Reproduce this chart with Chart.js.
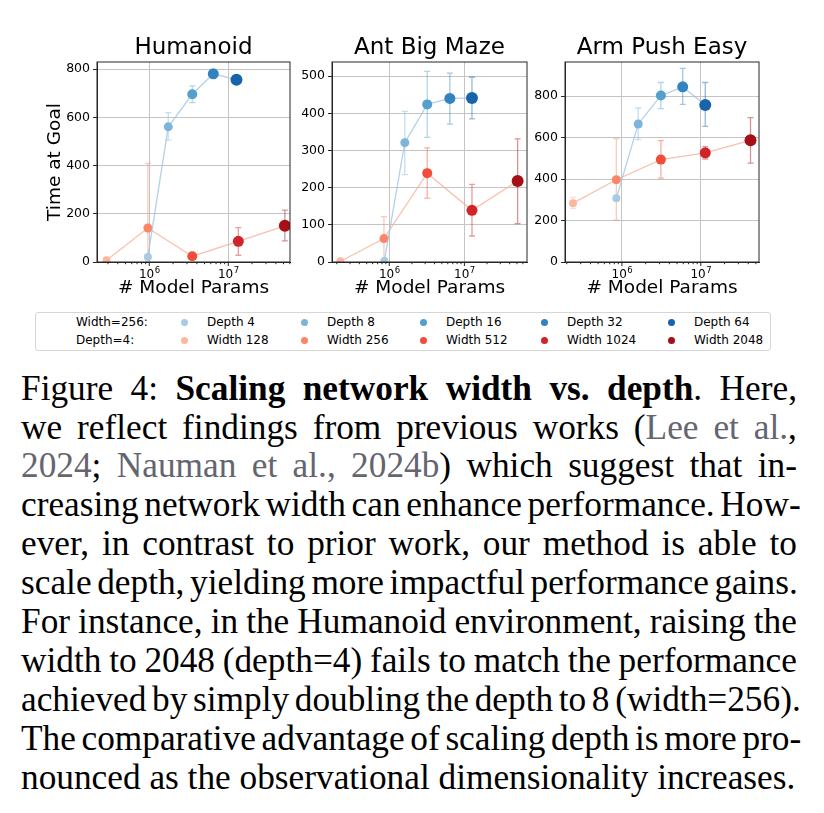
<!DOCTYPE html>
<html>
<head>
<meta charset="utf-8">
<script src="https://cdn.jsdelivr.net/npm/chart.js@4/dist/chart.umd.min.js"></script>
<style>
body { margin: 0; background: #fff; width: 824px; height: 813px; position: relative; overflow: hidden; font-family: "DejaVu Sans", sans-serif; }
.box { position: absolute; top: 20px; height: 290px; }
#legend { position: absolute; left: 35px; top: 312px; width: 734px; height: 37px; border: 1px solid #d6d6d6; border-radius: 3px; font-size: 12px; color: #000; }
#legend span { position: absolute; white-space: nowrap; line-height: 14px; }
#legend i { position: absolute; width: 7px; height: 7px; border-radius: 50%; }
#caption { position: absolute; left: 21px; top: 369.6px; width: 776px; font-family: "Liberation Serif", serif; font-size: 35.3px; line-height: 38.9px; color: #000; }
#caption div { display: flex; justify-content: space-between; column-gap: 0.16em; white-space: nowrap; }
#caption div.last { justify-content: flex-start; column-gap: 0.25em; }
#caption u { text-decoration: none; color: #64656f; }
</style>
</head>
<body>
<div class="box" style="left:0;width:300px"><canvas id="hum"></canvas></div>
<div class="box" style="left:290px;width:260px"><canvas id="ant"></canvas></div>
<div class="box" style="left:510px;width:314px"><canvas id="arm"></canvas></div>
<div id="legend"></div>
<div id="caption"></div>
<script>
// labels
var envTitles = ['Humanoid', 'Ant Big Maze', 'Arm Push Easy'];
var depthLabels = ['Depth 4', 'Depth 8', 'Depth 16', 'Depth 32', 'Depth 64'];
var widthLabels = ['Width 128', 'Width 256', 'Width 512', 'Width 1024', 'Width 2048'];
var majorTicks = [1e6, 1e7];
var majorBase = '10';
var majorExp = ['6', '7'];

// Humanoid
var humDepthParams = [9.6e5, 1.74e6, 3.5e6, 6.46e6, 1.27e7];
var humDepth = [21, 561, 696, 781, 756];
var humDepthLo = [12, 506, 661, 771, 746];
var humDepthHi = [30, 620, 731, 791, 766];
var humWidthParams = [2.88e5, 9.6e5, 3.5e6, 1.34e7, 5.2e7];
var humWidth = [7, 141, 24, 86, 150];
var humWidthLo = [2, 0, 15, 28, 88];
var humWidthHi = [12, 409, 33, 143, 215];

// Ant Big Maze
var antDepthParams = [8.6e5, 1.61e6, 3.2e6, 6.4e6, 1.26e7];
var antDepth = [3, 321, 424, 440, 441];
var antDepthLo = [0, 235, 335, 371, 385];
var antDepthHi = [8, 405, 513, 508, 497];
var antWidthParams = [2.24e5, 8.5e5, 3.2e6, 1.26e7, 5.1e7];
var antWidth = [2, 63, 239, 139, 218];
var antWidthLo = [0, 8, 172, 70, 103];
var antWidthHi = [5, 122, 307, 209, 331];

// Arm Push Easy
var armDepthParams = [8.5e5, 1.61e6, 3.12e6, 5.9e6, 1.14e7];
var armDepth = [307, 666, 803, 845, 758];
var armDepthLo = [298, 590, 740, 761, 654];
var armDepthHi = [316, 743, 866, 934, 866];
var armWidthParams = [2.4e5, 8.5e5, 3.12e6, 1.14e7, 4.27e7];
var armWidth = [284, 397, 494, 527, 587];
var armWidthLo = [258, 202, 405, 497, 477];
var armWidthHi = [312, 595, 586, 557, 697];

// y tick labels per panel
var humYTicks = [0, 200, 400, 600, 800];
var antYTicks = [0, 100, 200, 300, 400, 500];
var armYTicks = [0, 200, 400, 600, 800];

var depthColors = ['#a6cbe3', '#7db5da', '#559fce', '#3383bf', '#1764ab'];
var widthColors = ['#fcb79d', '#fb8566', '#f14d38', '#d12429', '#a50f15'];
var markerSizes = [4, 4.5, 5, 5.5, 6];
var grey = '#c4c4c4';
var dark = '#262626';

function majorIndex(v) {
  return majorTicks.findIndex(function (m) { return Math.abs(v - m) / m < 1e-6; });
}

var xTicks = [];
[1e5, 1e6, 1e7].forEach(function (d) {
  for (var k = 1; k < 10; k++) xTicks.push(k * d);
});

var errorBars = {
  id: 'errorBars',
  beforeDatasetsDraw: function (chart) {
    var ctx = chart.ctx, a = chart.chartArea;
    var xs = chart.scales.x, ys = chart.scales.y;
    ctx.save();
    ctx.beginPath();
    ctx.rect(a.left, a.top, a.right - a.left, a.bottom - a.top);
    ctx.clip();
    chart.data.datasets.forEach(function (ds) {
      ds.data.forEach(function (p, i) {
        var x = xs.getPixelForValue(p.x);
        var y1 = ys.getPixelForValue(ds.errLo[i]);
        var y2 = ys.getPixelForValue(ds.errHi[i]);
        ctx.strokeStyle = ds.pointBackgroundColor[i];
        ctx.globalAlpha = 0.45;
        ctx.lineWidth = 1.3;
        ctx.beginPath();
        ctx.moveTo(x, y1); ctx.lineTo(x, y2);
        ctx.moveTo(x - 3, y1); ctx.lineTo(x + 3, y1);
        ctx.moveTo(x - 3, y2); ctx.lineTo(x + 3, y2);
        ctx.stroke();
      });
    });
    ctx.restore();
  }
};

// axes box, log minor ticks and 10^n labels
var frame = {
  id: 'frame',
  afterDraw: function (chart) {
    var ctx = chart.ctx, a = chart.chartArea, xs = chart.scales.x;
    ctx.save();
    ctx.strokeStyle = dark;
    ctx.lineWidth = 1;
    ctx.strokeRect(a.left, a.top, a.right - a.left, a.bottom - a.top);
    xs.ticks.forEach(function (t) {
      var x = xs.getPixelForValue(t.value);
      var mi = majorIndex(t.value);
      ctx.beginPath();
      ctx.moveTo(x, a.bottom);
      ctx.lineTo(x, a.bottom + (mi >= 0 ? 4 : 2.2));
      ctx.stroke();
      if (mi >= 0) {
        ctx.fillStyle = '#000';
        ctx.textBaseline = 'alphabetic';
        ctx.textAlign = 'left';
        ctx.font = '12px "DejaVu Sans"';
        var wb = ctx.measureText(majorBase).width;
        ctx.font = '8.5px "DejaVu Sans"';
        var we = ctx.measureText(majorExp[mi]).width;
        var x0 = x - (wb + we) / 2;
        ctx.font = '12px "DejaVu Sans"';
        ctx.fillText(majorBase, x0, a.bottom + 16);
        ctx.font = '8.5px "DejaVu Sans"';
        ctx.fillText(majorExp[mi], x0 + wb + 0.5, a.bottom + 10.5);
      }
    });
    ctx.restore();
  }
};

function series(xs, ys, lo, hi, colors, lineColor) {
  return {
    data: xs.map(function (x, i) { return {x: x, y: ys[i]}; }),
    errLo: lo,
    errHi: hi,
    borderColor: lineColor,
    borderWidth: 1.3,
    pointBackgroundColor: colors,
    pointBorderColor: colors,
    pointBorderWidth: 0,
    pointRadius: markerSizes,
    pointHoverRadius: markerSizes,
    tension: 0
  };
}

function makeChart(id, title, yTitle, yWidth, padRight, xMin, xMax, yMax, yTicks, datasets) {
  return new Chart(document.getElementById(id), {
    type: 'line',
    data: {datasets: datasets},
    options: {
      responsive: true,
      maintainAspectRatio: false,
      animation: false,
      layout: {padding: {left: 0, right: padRight, top: 0, bottom: 0}},
      plugins: {
        legend: {display: false},
        tooltip: {enabled: false},
        title: {
          display: true, text: title, color: '#000', fullSize: false,
          font: {family: 'DejaVu Sans', size: 23, weight: 'normal'},
          padding: {top: 14.4, bottom: 0}
        }
      },
      scales: {
        x: {
          type: 'logarithmic', min: xMin, max: xMax,
          afterBuildTicks: function (s) {
            s.ticks = xTicks.filter(function (v) { return v >= xMin && v <= xMax; })
              .map(function (v) { return {value: v}; });
          },
          afterFit: function (s) { s.height = 48; },
          ticks: {
            autoSkip: false, maxRotation: 0, padding: 2, color: '#000',
            font: {family: 'DejaVu Sans', size: 12},
            callback: function () { return ''; }
          },
          grid: {
            color: function (c) { return c.tick && majorIndex(c.tick.value) >= 0 ? grey : 'rgba(0,0,0,0)'; },
            tickColor: 'rgba(0,0,0,0)', tickLength: 4
          },
          border: {color: dark},
          title: {
            display: true, text: '# Model Params', color: '#000',
            font: {family: 'DejaVu Sans', size: 18.5},
            padding: {top: 0, bottom: 11}
          }
        },
        y: {
          min: 0, max: yMax,
          afterBuildTicks: function (s) {
            s.ticks = yTicks.map(function (v) { return {value: v}; });
          },
          afterFit: function (s) { s.width = yWidth; },
          ticks: {autoSkip: false, padding: 3, color: '#000', font: {family: 'DejaVu Sans', size: 12.5}},
          grid: {color: grey, tickColor: dark, tickLength: 4},
          border: {color: dark},
          title: {
            display: !!yTitle, text: yTitle, color: '#000',
            font: {family: 'DejaVu Sans', size: 18.5},
            padding: {top: 44, bottom: 0}
          }
        }
      }
    },
    plugins: [errorBars, frame]
  });
}

makeChart('hum', envTitles[0], 'Time at Goal', 97, 10, 2.18e5, 6.04e7, 830, humYTicks, [
  series(humDepthParams, humDepth, humDepthLo, humDepthHi, depthColors, 'rgba(160,198,226,0.8)'),
  series(humWidthParams, humWidth, humWidthLo, humWidthHi, widthColors, 'rgba(246,178,156,0.8)')
]);
makeChart('ant', envTitles[1], '', 42, 23, 1.73e5, 6.8e7, 538, antYTicks, [
  series(antDepthParams, antDepth, antDepthLo, antDepthHi, depthColors, 'rgba(160,198,226,0.8)'),
  series(antWidthParams, antWidth, antWidthLo, antWidthHi, widthColors, 'rgba(246,178,156,0.8)')
]);
makeChart('arm', envTitles[2], '', 55, 65, 1.9e5, 5.47e7, 965, armYTicks, [
  series(armDepthParams, armDepth, armDepthLo, armDepthHi, depthColors, 'rgba(160,198,226,0.8)'),
  series(armWidthParams, armWidth, armWidthLo, armWidthHi, widthColors, 'rgba(246,178,156,0.8)')
]);

// legend (page x of each column's marker)
var legendCols = [184, 304, 423, 544, 671];
var legendRows = [
  {head: 'Width=256:', labels: depthLabels, colors: depthColors},
  {head: 'Depth=4:', labels: widthLabels, colors: widthColors}
];
var lg = document.getElementById('legend');
var html = '';
legendRows.forEach(function (r, ri) {
  var top = 2 + ri * 18;
  html += '<span style="left:40px;top:' + top + 'px">' + r.head + '</span>';
  r.labels.forEach(function (t, i) {
    var cx = legendCols[i] - 36;
    html += '<i style="left:' + (cx - 3.5) + 'px;top:' + (top + 3.5) + 'px;background:' + r.colors[i] + '"></i>';
    html += '<span style="left:' + (cx + 23) + 'px;top:' + top + 'px">' + t + '</span>';
  });
});
lg.innerHTML = html;

// caption, one entry per printed line
var captionLines = [
  'Figure 4: <b>Scaling</b> <b>network</b> <b>width</b> <b>vs.</b> <b>depth</b>. Here,',
  'we reflect findings from previous works (<u>Lee</u> <u>et</u> <u>al.</u>,',
  '<u>2024</u>; <u>Nauman</u> <u>et</u> <u>al.,</u> <u>2024b</u>) which suggest that in-',
  'creasing network width can enhance performance. How-',
  'ever, in contrast to prior work, our method is able to',
  'scale depth, yielding more impactful performance gains.',
  'For instance, in the Humanoid environment, raising the',
  'width to 2048 (depth=4) fails to match the performance',
  'achieved by simply doubling the depth to 8 (width=256).',
  'The comparative advantage of scaling depth is more pro-',
  'nounced as the observational dimensionality increases.'
];
document.getElementById('caption').innerHTML = captionLines.map(function (l, k) {
  var cls = k === captionLines.length - 1 ? ' class="last"' : '';
  return '<div' + cls + '>' + l.split(' ').map(function (w) { return '<span>' + w + '</span>'; }).join('') + '</div>';
}).join('');
</script>
</body>
</html>
